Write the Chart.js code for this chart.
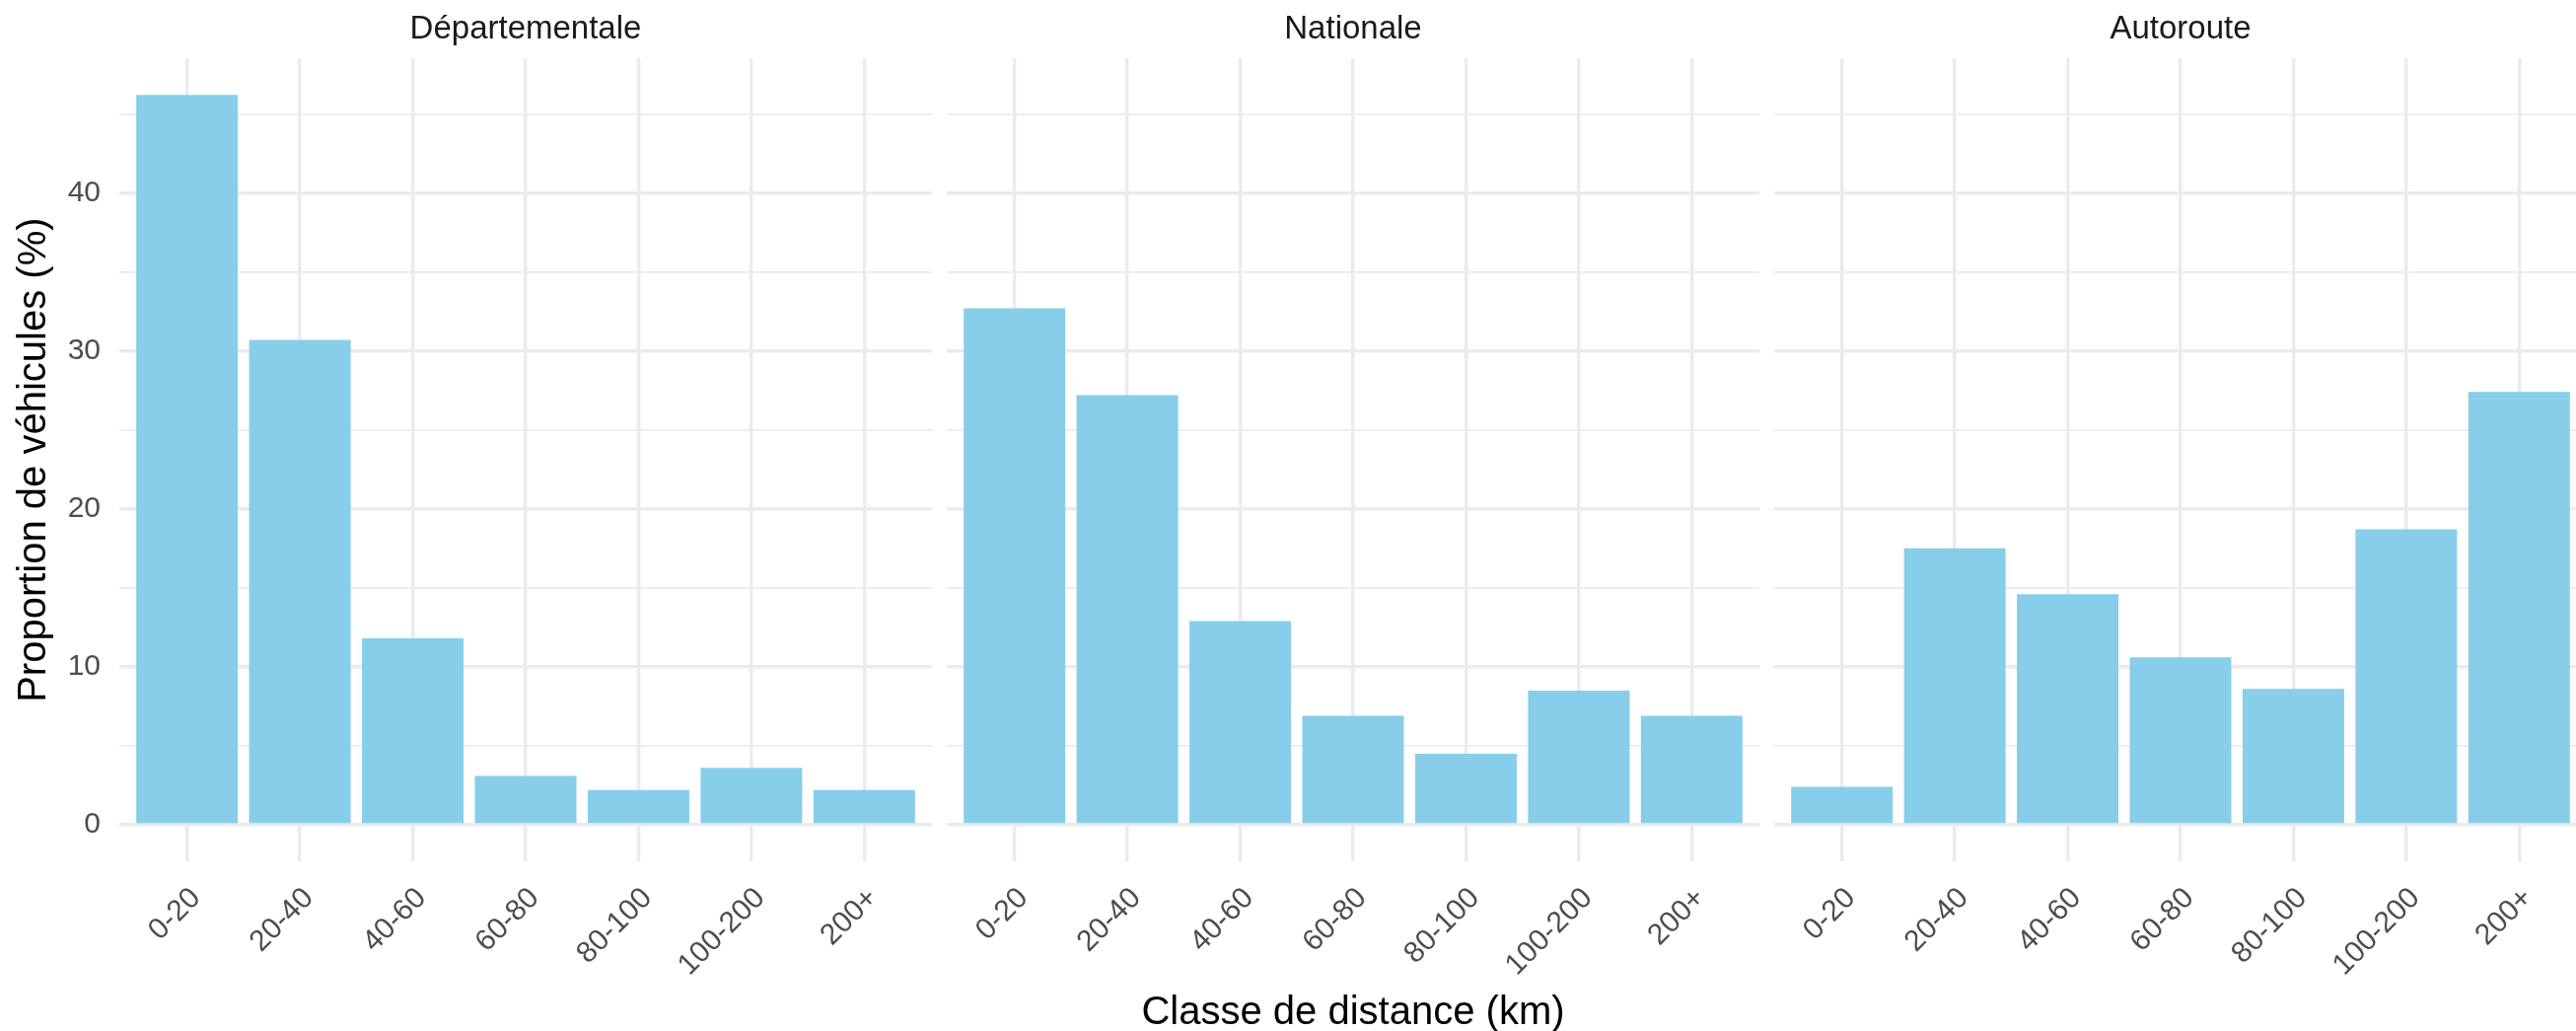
<!DOCTYPE html>
<html lang="fr">
<head>
<meta charset="UTF-8" />
<title>Proportion de véhicules par classe de distance</title>
<script src="https://cdn.jsdelivr.net/npm/chart.js"></script>
<style>
  html, body { margin: 0; padding: 0; background: #fff; overflow: hidden; }
  body { width: 2612px; height: 1045px; position: relative; }
  canvas { position: absolute; top: 0; }
</style>
</head>
<body>
<canvas id="panelDep" width="945" height="1045" style="left:0px"></canvas>
<canvas id="panelNat" width="824" height="1045" style="left:960px"></canvas>
<canvas id="panelAut" width="824" height="1045" style="left:1799px"></canvas>

<script>
  // classes de distance et proportions (%) par type de route
  const classes = ['0-20', '20-40', '40-60', '60-80', '80-100', '100-200', '200+'];
  const roadTypes = ['Départementale', 'Nationale', 'Autoroute'];
  const departementale = [46.2, 30.7, 11.8, 3.1, 2.2, 3.6, 2.2];
  const nationale = [32.7, 27.2, 12.9, 6.9, 4.5, 8.5, 6.9];
  const autoroute = [2.4, 17.5, 14.6, 10.6, 8.6, 18.7, 27.4];
  const yTickLabels = [0, 10, 20, 30, 40];
  const yMinorTicks = [5, 15, 25, 35, 45];

  const FONT = "'Liberation Sans', Arial, sans-serif";
  const GRID = '#EBEBEB';
  const BAR = '#87CEEB';

  // expansion du domaine y (5 %), comme ggplot
  const allValues = departementale.concat(nationale, autoroute);
  const yTop = Math.max(...allValues);
  const yPad = yTop * 0.05;

  function makePanel(id, title, values, showY, showXTitle) {
    const ctx = document.getElementById(id).getContext('2d');
    return new Chart(ctx, {
      type: 'bar',
      data: {
        datasets: [{
          data: values.map((v, i) => ({ x: i, y: v })),
          backgroundColor: BAR,
          borderWidth: 0,
          barPercentage: 0.9,
          categoryPercentage: 1.0
        }]
      },
      options: {
        responsive: false,
        animation: false,
        layout: { padding: 0 },
        plugins: {
          legend: { display: false },
          tooltip: { enabled: false },
          title: {
            display: true,
            fullSize: false,   // centré sur la zone du graphique, pas sur le canvas
            text: title,
            color: '#1A1A1A',
            font: { family: FONT, size: 33, weight: 'normal', lineHeight: 1.2 },
            padding: { top: 10.5, bottom: 9.2 }
          }
        },
        scales: {
          x: {
            type: 'linear',
            offset: false,
            min: -0.6,
            max: classes.length - 0.4,
            afterBuildTicks: s => { s.ticks = classes.map((c, i) => ({ value: i })); },
            afterFit: s => { s.height = 172; },
            grid: { color: GRID, lineWidth: 3.4, drawTicks: false, offset: false },
            border: { display: false },
            ticks: {
              autoSkip: false,
              maxRotation: 45,
              minRotation: 45,
              padding: 20,
              labelOffset: 9,
              color: '#4D4D4D',
              font: { family: FONT, size: 30 },
              callback: v => classes[v]
            },
            title: {
              display: showXTitle,
              text: 'Classe de distance (km)',
              color: '#000',
              font: { family: FONT, size: 40, lineHeight: 0.9 },
              padding: { top: 0, bottom: 0 }
            }
          },
          y: {
            min: -yPad,
            max: yTop + yPad,
            afterBuildTicks: s => {
              s.ticks = yTickLabels.concat(yMinorTicks).sort((a, b) => a - b).map(v => ({ value: v }));
            },
            afterFit: s => { s.width = showY ? 121 : 0; },
            grid: {
              color: GRID,
              lineWidth: c => (c.tick && c.tick.value % 10 === 0) ? 3.4 : 1.7,
              drawTicks: false
            },
            border: { display: false },
            ticks: {
              display: showY,
              padding: 19,
              color: '#4D4D4D',
              font: { family: FONT, size: 30 },
              callback: v => yTickLabels.includes(v) ? String(v) : ''
            },
            title: {
              display: showY,
              text: 'Proportion de véhicules (%)',
              color: '#000',
              font: { family: FONT, size: 40, lineHeight: 1.2 },
              padding: { top: 11, bottom: 0 }
            }
          }
        }
      }
    });
  }

  makePanel('panelDep', roadTypes[0], departementale, true, false);
  makePanel('panelNat', roadTypes[1], nationale, false, true);
  makePanel('panelAut', roadTypes[2], autoroute, false, false);
</script>
</body>
</html>
